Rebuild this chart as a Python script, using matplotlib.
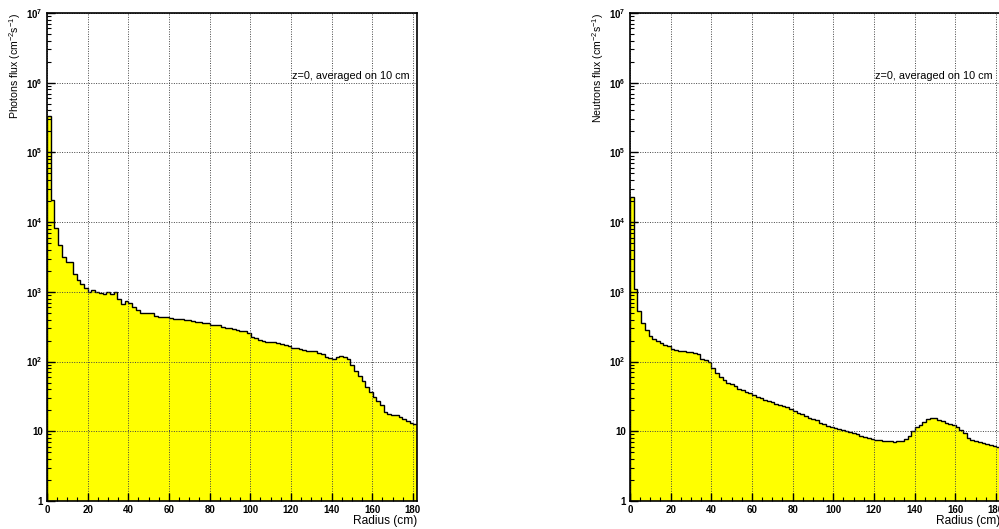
import numpy as np
import matplotlib
matplotlib.use('Agg')
import matplotlib.pyplot as plt
from matplotlib.ticker import FixedLocator, FixedFormatter, LogLocator, NullFormatter, MultipleLocator

plt.rcParams['font.family'] = ['Liberation Sans', 'DejaVu Sans']
plt.rcParams['mathtext.default'] = 'regular'

# radius binning: 100 bins from 0 to 182 cm
r_min, r_max, n_bins = 0.0, 182.0, 100
edges = np.linspace(r_min, r_max, n_bins + 1)

# photons flux per bin (cm^-2 s^-1)
photons = [
    3.3e5, 2.1e4, 8.2e3, 4.7e3, 3.2e3, 2.7e3, 2.65e3, 1.8e3, 1.5e3, 1.3e3,
    1.15e3, 1.0e3, 1.08e3, 980, 950, 920, 1.0e3, 930, 1.0e3, 780,
    670, 735, 700, 610, 550, 505, 500, 495, 490, 445,
    440, 435, 430, 422, 412, 405, 403, 400, 390, 380,
    372, 368, 362, 356, 340, 336, 334, 318, 306, 302,
    292, 284, 278, 270, 258, 225, 215, 205, 200, 193,
    192, 190, 183, 180, 172, 168, 156, 154, 150, 146,
    144, 141, 140, 132, 128, 115, 112, 110, 117, 121,
    118, 108, 90, 74, 62, 52, 43, 37, 31, 27,
    24, 19, 17.8, 17.4, 17, 16, 15, 13.9, 13.2, 12.8,
]

# neutrons flux per bin (cm^-2 s^-1)
neutrons = [
    2.3e4, 1.1e3, 530, 360, 280, 236, 211, 198, 185, 175,
    165, 150, 146, 141, 140, 137, 136, 132, 130, 108,
    104, 98, 80, 68, 60, 55, 50, 47, 44, 41,
    38.5, 36.5, 35, 33, 31.5, 30, 28.5, 27, 26, 25,
    24, 23, 22, 21, 19.5, 18.5, 17.5, 16.5, 15.5, 15,
    14.3, 13.2, 12.6, 12.0, 11.5, 11.1, 10.8, 10.4, 10.1, 9.8,
    9.5, 9.1, 8.7, 8.3, 8.0, 7.8, 7.6, 7.45, 7.35, 7.25,
    7.15, 7.1, 7.15, 7.3, 7.7, 8.5, 10.0, 11.6, 12.5, 13.8,
    15.0, 15.6, 15.3, 14.7, 14.0, 13.3, 12.8, 12.3, 11.6, 10.6,
    9.6, 7.9, 7.5, 7.3, 7.0, 6.8, 6.6, 6.4, 6.2, 6.0,
]

y_ticks = [1, 10, 1e2, 1e3, 1e4, 1e5, 1e6, 1e7]
y_labels = ['1', '10', '$10^{2}$', '$10^{3}$', '$10^{4}$', '$10^{5}$', '$10^{6}$', '$10^{7}$']
x_ticks = list(range(0, 181, 20))
note = 'z=0, averaged on 10 cm'

W, H = 999, 529
fig = plt.figure(figsize=(W / 100, H / 100), dpi=100)


def panel(left_px, values, ylabel):
    ax = fig.add_axes([left_px / W, (H - 501) / H, 370 / W, 488 / H])
    ax.stairs(values, edges, baseline=1e-3, fill=True, color='#ffff00', zorder=1)
    ax.stairs(values, edges, baseline=1e-3, color='black', linewidth=1.0, zorder=2)
    ax.set_yscale('log')
    ax.set_ylim(1, 1e7)
    ax.set_xlim(r_min, r_max)

    ax.yaxis.set_major_locator(FixedLocator(y_ticks))
    ax.yaxis.set_major_formatter(FixedFormatter(y_labels))
    ax.yaxis.set_minor_locator(LogLocator(base=10, subs=np.arange(2, 10)))
    ax.yaxis.set_minor_formatter(NullFormatter())
    ax.xaxis.set_major_locator(FixedLocator(x_ticks))
    ax.xaxis.set_minor_locator(MultipleLocator(5))

    ax.tick_params(which='major', direction='in', length=6, width=1.0,
                   labelsize=7, pad=3)
    ax.tick_params(which='minor', direction='in', length=3, width=0.8)
    for lab in ax.get_xticklabels() + ax.get_yticklabels():
        lab.set_fontweight('bold')

    ax.grid(True, which='major', linestyle=(0, (1, 1.5)), color='#444444',
            linewidth=0.7)
    ax.set_axisbelow(False)
    for s in ax.spines.values():
        s.set_linewidth(1.2)
        s.set_zorder(3)

    ax.set_xlabel('Radius (cm)', fontsize=8.6, loc='right')
    ax.xaxis.set_label_coords(1.0, -0.028)
    ax.set_ylabel(ylabel, fontsize=7.6, loc='top')
    ax.yaxis.set_label_coords(-0.066, 1.0)
    ax.text(0.98, 0.871, note, transform=ax.transAxes, ha='right', va='center',
            fontsize=7.8)
    return ax


panel(47, photons, 'Photons flux (cm$^{-2}$s$^{-1}$)')
panel(630, neutrons, 'Neutrons flux (cm$^{-2}$s$^{-1}$)')

fig.savefig('out.png', dpi=100)
